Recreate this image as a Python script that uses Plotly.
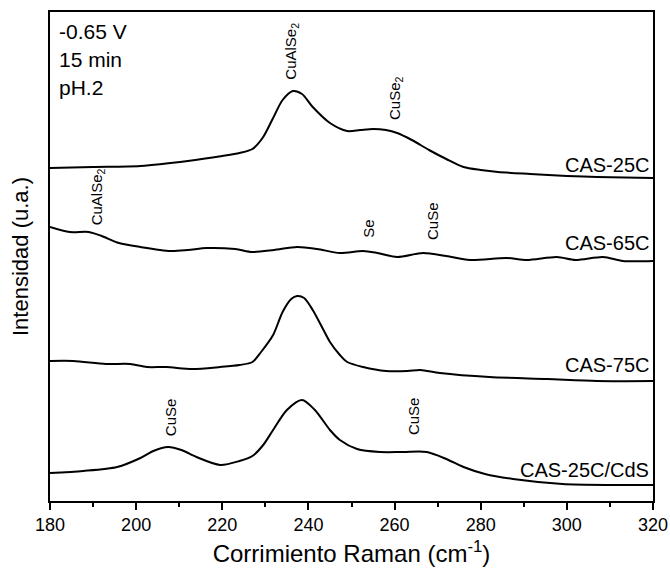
import plotly.graph_objects as go

# Raman shift (cm^-1) and intensity (arbitrary units, offset stacked)
x_25c = [180, 190, 201, 212, 220, 224, 227, 229.5, 231.8, 234, 236.4, 238.5, 241, 245, 249, 252, 255, 258, 260.6, 264, 268, 272, 276, 280, 284, 291.5, 300, 307, 320]
y_25c = [333, 334, 335, 340, 345, 348, 352, 364, 383, 401, 410, 407, 394, 378, 370, 371, 372, 371, 368, 361, 351, 342, 334, 331, 329, 327, 325, 324, 323]

x_65c = [180, 184.6, 189, 192, 196, 201, 208, 212, 216.4, 223, 227, 232, 237.4, 242, 247.3, 252.7, 256, 260.6, 266.6, 272, 277.5, 286, 290.7, 297.7, 302, 308.4, 313, 320]
y_65c = [274, 269, 269, 265, 258, 254, 250, 251, 253, 252, 249, 251, 254, 252, 248, 250, 248, 244, 248, 245, 241, 243, 241, 244, 241, 244, 240, 240]

x_75c = [180, 185.4, 193, 198.6, 202.5, 207, 213, 219.5, 224, 227, 229, 231.8, 234, 236, 237.4, 239, 241, 243.5, 245, 247.3, 249, 252.7, 258, 263, 266, 270.5, 282, 295.4, 307, 320]
y_75c = [140, 140, 137, 137, 134, 134, 132, 134, 136, 139, 149, 166, 189, 202, 205, 203, 191, 171, 159, 146, 139, 134, 130, 130, 131, 128, 124, 122, 120, 120]

x_cds = [180, 187.7, 195.6, 201, 204, 207.4, 210.5, 214, 219.5, 224, 227, 229.5, 231.8, 235, 238.5, 241.5, 245, 247.3, 251.3, 256.6, 262, 267.5, 272, 276, 281, 287.5, 299, 310.7, 320]
y_cds = [28, 30, 34, 43, 50, 54, 51, 44, 36, 40, 45, 56, 71, 91, 101, 91, 71, 61, 52, 49, 49, 49, 42, 34, 27, 22, 17, 16, 16]

series = [
    ("CAS-25C", x_25c, y_25c),
    ("CAS-65C", x_65c, y_65c),
    ("CAS-75C", x_75c, y_75c),
    ("CAS-25C/CdS", x_cds, y_cds),
]

# series labels at right end (vertical centre, data units)
label_y = [336, 258, 136, 31]

# peak annotations: text, x position (cm^-1), bottom y (data units)
peak_text = ["CuAlSe<sub>2</sub>", "CuSe<sub>2</sub>", "CuAlSe<sub>2</sub>", "Se", "CuSe", "CuSe", "CuSe"]
peak_x = [236.0, 260.1, 191.1, 253.8, 268.7, 207.9, 264.3]
peak_y = [419, 379, 274, 261, 259, 63, 64]

font_family = "Arial, Liberation Sans, sans-serif"

fig = go.Figure()
for name, xs, ys in series:
    fig.add_trace(go.Scatter(x=xs, y=ys, mode="lines", name=name,
                             line=dict(color="black", width=2, shape="spline", smoothing=0.8),
                             showlegend=False))

annotations = []
for (name, _, _), ly in zip(series, label_y):
    annotations.append(dict(x=319.6, y=ly, xref="x", yref="y", text=name, showarrow=False,
                            xanchor="right", yanchor="middle",
                            font=dict(size=20, color="black", family=font_family)))
for t, px_, py_ in zip(peak_text, peak_x, peak_y):
    annotations.append(dict(x=px_, y=py_, xref="x", yref="y", text=t, showarrow=False,
                            textangle=-90, xanchor="center", yanchor="bottom",
                            font=dict(size=15, color="black", family=font_family)))
for i, t in enumerate(["-0.65 V", "15 min", "pH.2"]):
    annotations.append(dict(x=0.012, y=0.988 - i * 0.057, xref="paper", yref="paper", text=t,
                            showarrow=False, xanchor="left", yanchor="top",
                            font=dict(size=21, color="black", family=font_family)))

fig.update_layout(
    width=670, height=579,
    margin=dict(l=50, r=17, t=12, b=78, autoexpand=False),
    plot_bgcolor="white", paper_bgcolor="white",
    font=dict(family=font_family, color="black"),
    annotations=annotations,
)
fig.update_xaxes(range=[180, 320], tickvals=list(range(180, 321, 20)), showgrid=False, zeroline=False,
                 automargin=False,
                 showline=True, linecolor="black", linewidth=1.5, mirror=True,
                 ticks="outside", ticklen=7, tickwidth=1.5, tickcolor="black",
                 minor=dict(tickvals=list(range(190, 320, 20)), ticks="outside", ticklen=4, tickwidth=1.5, tickcolor="black"),
                 tickfont=dict(size=18),
                 title=dict(text="Corrimiento Raman (cm<sup>-1</sup>)", font=dict(size=24), standoff=11))
fig.update_yaxes(range=[0, 489], showticklabels=False, ticks="", showgrid=False, zeroline=False,
                 automargin=False,
                 showline=True, linecolor="black", linewidth=1.5, mirror=True,
                 title=dict(text="Intensidad (u.a.)", font=dict(size=22), standoff=14))

fig.write_html("out.html")
